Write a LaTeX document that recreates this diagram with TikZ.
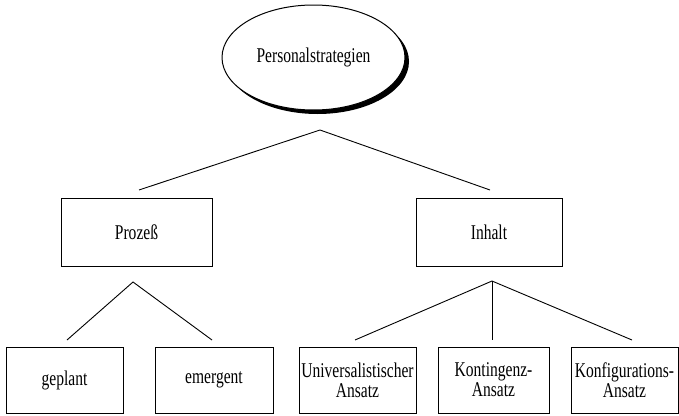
\documentclass[tikz,border=0pt]{standalone}
\usepackage{fontspec}
\usepackage{tikz}
\usetikzlibrary{positioning,shapes.geometric,shadows}
\newfontfamily\chartfont[FakeStretch=0.74]{Liberation Serif}

\tikzset{
  box/.style={draw,line width=1pt,inner sep=0pt,align=center,
    font=\chartfont\fontsize{21}{20}\selectfont},
  link/.style={line width=.9pt}
}

\begin{document}
\begin{tikzpicture}[x=1pt,y=-1pt]
\useasboundingbox (0,0) rectangle (679,415);
  % top
  \node[box,ellipse,minimum width=183pt,minimum height=105pt,fill=white,
    drop shadow={shadow xshift=4pt,shadow yshift=-4pt,opacity=1,fill=black}]
    (strat) at (313.5,57.5) {Personalstrategien};
  % second level
  \node[box,minimum width=151pt,minimum height=68pt] (prozess) at (136.5,232) {Prozeß};
  \node[box,minimum width=146pt,minimum height=68pt] (inhalt) at (489,232) {Inhalt};
  % bottom level
  \node[box,minimum width=117pt,minimum height=66pt] (geplant) at (64.5,380) {geplant};
  \node[box,minimum width=118pt,minimum height=66pt] (emergent) at (214,380) {emergent};
  \node[box,minimum width=117pt,minimum height=66pt] (univ) at (357.5,380) {Universalistischer\\Ansatz};
  \node[box,minimum width=111pt,minimum height=66pt] (konting) at (493.5,380) {Kontingenz-\\Ansatz};
  \node[box,minimum width=107pt,minimum height=66pt] (konfig) at (624.5,380) {Konfigurations-\\Ansatz};

  % branch points
  \coordinate (jtop) at (320,130);
  \coordinate (jproz) at (133,282);
  \coordinate (jinh) at (492,281);
  \coordinate (eprozess) at (139,190);
  \coordinate (einhalt) at (490,190);
  \coordinate (egeplant) at (67,340);
  \coordinate (eemergent) at (212,340);
  \coordinate (euniv) at (355,340);
  \coordinate (ekonting) at (492,340);
  \coordinate (ekonfig) at (632,340);

  \draw[link] (eprozess) -- (jtop) -- (einhalt);
  \draw[link] (egeplant) -- (jproz) -- (eemergent);
  \draw[link] (euniv) -- (jinh) -- (ekonfig);
  \draw[link] (jinh) -- (ekonting);
\end{tikzpicture}
\end{document}
